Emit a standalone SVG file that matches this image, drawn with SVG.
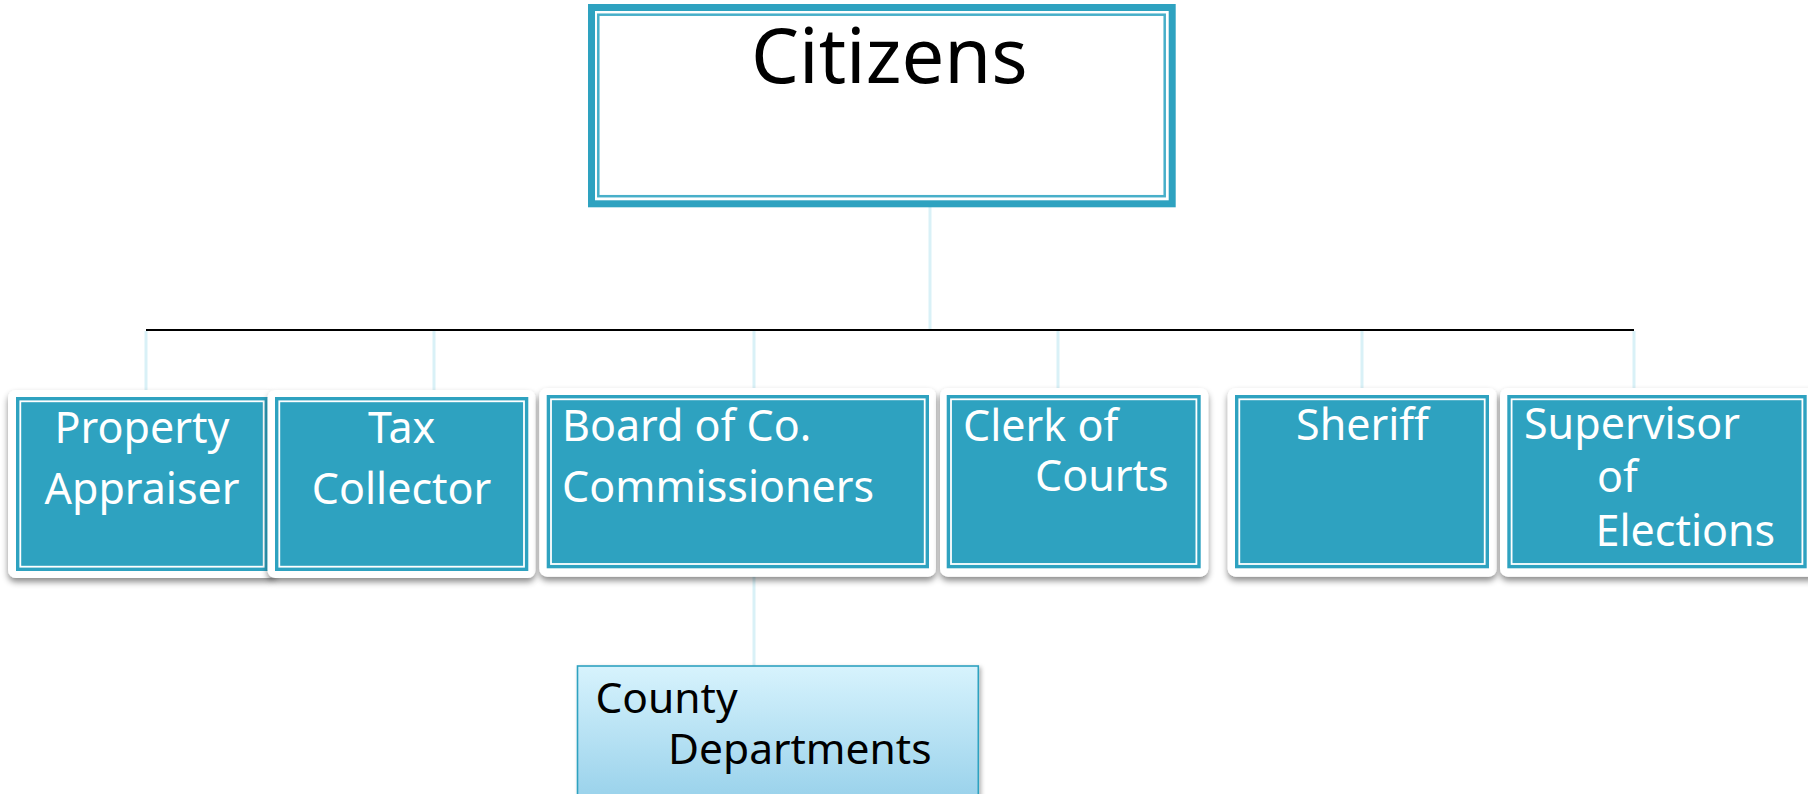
<svg xmlns="http://www.w3.org/2000/svg" width="1808" height="794" viewBox="0 0 1808 794">
<defs>
<filter id="shadow" x="-5%" y="-5%" width="110%" height="120%">
<feDropShadow dx="0" dy="4" stdDeviation="3" flood-color="#000" flood-opacity="0.45"/>
</filter>
<filter id="shadow2" x="-5%" y="-5%" width="110%" height="120%">
<feDropShadow dx="2" dy="2" stdDeviation="2" flood-color="#000" flood-opacity="0.3"/>
</filter>
<linearGradient id="blueGrad" x1="0" y1="0" x2="0" y2="1">
<stop offset="0" stop-color="#d7f3fd"/>
<stop offset="1" stop-color="#96d0ea"/>
</linearGradient>
</defs>
<style>
.frame{fill:#ffffff;filter:url(#shadow);}
.teal{fill:#2ea2c0;}
.inner{fill:none;stroke:#ffffff;stroke-width:1.8;}
.wt{font-family:"Noto Sans","Open Sans",sans-serif;font-size:43px;fill:#ffffff;}
.bt{font-family:"Noto Sans","Open Sans",sans-serif;fill:#000000;}
.conn{stroke:#d9f1f7;stroke-width:3;fill:none;}
.bar{stroke:#000000;stroke-width:2;fill:none;}
</style>
<rect width="1808" height="794" fill="#ffffff"/>

<g id="connectors">
<line class="conn" x1="930" y1="202" x2="930" y2="329"/>
<line class="bar" x1="146" y1="330" x2="1634" y2="330"/>
<line class="conn" x1="146" y1="331" x2="146" y2="393"/>
<line class="conn" x1="434" y1="331" x2="434" y2="393"/>
<line class="conn" x1="754" y1="331" x2="754" y2="393"/>
<line class="conn" x1="1058" y1="331" x2="1058" y2="393"/>
<line class="conn" x1="1362" y1="331" x2="1362" y2="393"/>
<line class="conn" x1="1634" y1="331" x2="1634" y2="393"/>
<line class="conn" x1="754" y1="573" x2="754" y2="666"/>
</g>

<g id="citizens">
<rect x="591.5" y="7.5" width="580.7" height="196.3" fill="#ffffff" stroke="#2ea2c0" stroke-width="7"/>
<rect x="598.3" y="14.7" width="566.4" height="181.5" fill="none" stroke="#48afc9" stroke-width="2.5"/>
<text class="bt" x="751" y="83" font-size="76">Citizens</text>
</g>

<g id="property-appraiser">
<rect class="frame" x="8" y="390" width="268" height="188" rx="8"/>
<rect class="teal" x="16" y="397" width="252" height="174"/>
<rect class="inner" x="20.3" y="401.3" width="243.4" height="165.4"/>
<text class="wt" text-anchor="middle"><tspan x="142" y="443">Property</tspan><tspan x="142" y="504">Appraiser</tspan></text>
</g>

<g id="tax-collector">
<rect class="frame" x="267.5" y="390" width="268" height="188" rx="8"/>
<rect class="teal" x="275" y="397" width="253.3" height="174"/>
<rect class="inner" x="279.3" y="401.3" width="244.7" height="165.4"/>
<text class="wt" text-anchor="middle"><tspan x="401.6" y="443">Tax</tspan><tspan x="401.6" y="504">Collector</tspan></text>
</g>

<g id="board">
<rect class="frame" x="539.3" y="388" width="396.7" height="188.7" rx="8"/>
<rect class="teal" x="546.7" y="395" width="382.3" height="173.3"/>
<rect class="inner" x="551" y="399.3" width="373.7" height="164.7"/>
<text class="wt"><tspan x="562" y="441">Board of Co.</tspan><tspan x="562" y="502">Commissioners</tspan></text>
</g>

<g id="clerk">
<rect class="frame" x="940" y="388" width="268.3" height="188.7" rx="8"/>
<rect class="teal" x="946.7" y="395" width="254" height="173.3"/>
<rect class="inner" x="951" y="399.3" width="245.4" height="164.7"/>
<text class="wt"><tspan x="963" y="441">Clerk of</tspan><tspan x="1035" y="491">Courts</tspan></text>
</g>

<g id="sheriff">
<rect class="frame" x="1227.7" y="388" width="269" height="188.7" rx="8"/>
<rect class="teal" x="1235" y="395" width="254" height="173.3"/>
<rect class="inner" x="1239.3" y="399.3" width="245.4" height="164.7"/>
<text class="wt" text-anchor="middle" x="1362.5" y="440">Sheriff</text>
</g>

<g id="supervisor">
<rect class="frame" x="1500" y="388" width="320" height="188.7" rx="8"/>
<rect class="teal" x="1507.3" y="395" width="299.4" height="173.3"/>
<rect class="inner" x="1511.6" y="399.3" width="290.8" height="164.7"/>
<text class="wt"><tspan x="1524" y="438.5">Supervisor</tspan><tspan x="1597" y="492">of</tspan><tspan x="1595.5" y="545.5">Elections</tspan></text>
</g>

<g id="county-departments">
<rect x="577.5" y="666" width="400.8" height="140" fill="url(#blueGrad)" stroke="#2ea2c0" stroke-width="1.6" filter="url(#shadow2)"/>
<text class="bt" font-size="42.5"><tspan x="595.5" y="713">County</tspan><tspan x="668" y="764">Departments</tspan></text>
</g>
</svg>
